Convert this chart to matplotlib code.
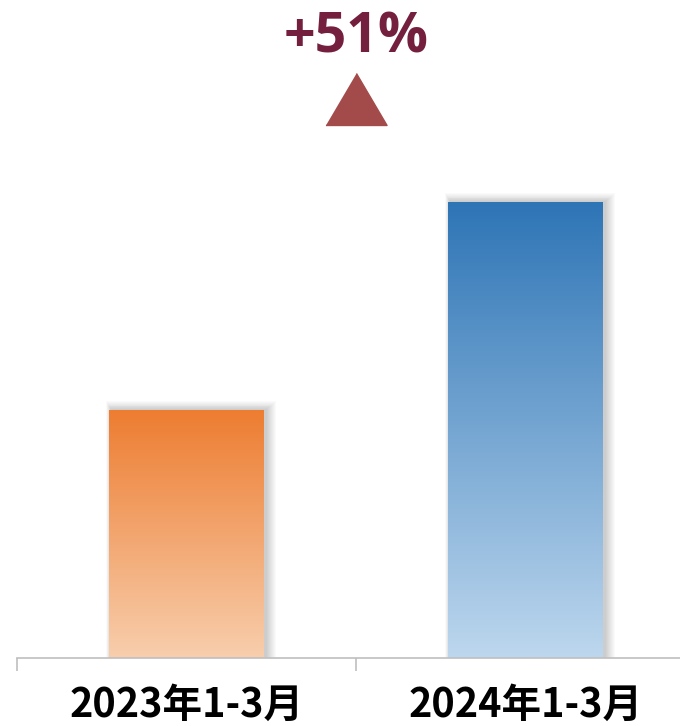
import numpy as np
import matplotlib
matplotlib.use("Agg")
from matplotlib import pyplot as plt
from matplotlib.colors import LinearSegmentedColormap
from matplotlib.patches import Rectangle

# data
categories = ['2023年1-3月', '2024年1-3月']
values = [248, 456]
growth_label = '+51%'
top_colors = ['#ED7D31', '#2E75B6']
bottom_colors = ['#F8CEAD', '#BDD7EE']

fig = plt.figure(figsize=[6.8, 7.26], dpi=100)
ax = fig.add_axes([17 / 680, 68 / 726, 678 / 680, 658 / 726])
ax.set_xlim(-0.5, 1.5)
ax.set_ylim(0, 658)

bar_w = 0.457
px_x = 2 / 678  # data units per pixel (x)
for i, v in enumerate(values):
    x0 = i - bar_w / 2
    # soft shadow, stronger on the right
    for k in range(1, 11):
        ax.add_patch(Rectangle((x0 - k * px_x * 0.5 + 2 * px_x, 0), bar_w + k * px_x * 1.5, v + k * 0.9,
                               color='black', alpha=0.018, lw=0, zorder=1))
    cmap = LinearSegmentedColormap.from_list(f'g{i}', [bottom_colors[i], top_colors[i]])
    grad = np.linspace(0, 1, 256).reshape(-1, 1)
    ax.imshow(grad, cmap=cmap, origin='lower', aspect='auto',
              extent=[x0, x0 + bar_w, 0, v], zorder=2)

ax.set_xlim(-0.5, 1.5)
ax.set_ylim(0, 658)

for s in ['top', 'right', 'left']:
    ax.spines[s].set_visible(False)
ax.spines['bottom'].set_color('#BFBFBF')
ax.spines['bottom'].set_linewidth(1.2)
ax.set_yticks([])
ax.set_xticks([0, 1])
ax.set_xticklabels(categories, fontsize=28.5, fontweight='heavy',
                   family=['Noto Sans CJK SC', 'DejaVu Sans'])
ax.tick_params(axis='x', which='major', length=0, pad=19)
ax.set_xticks([-0.5, 0.5, 1.5], minor=True)
ax.tick_params(axis='x', which='minor', length=9, color='#BFBFBF', width=1.2)

ax.text(0.5, 620, growth_label, ha='center', va='center', fontsize=40,
        fontweight='bold', family='Open Sans', color='#741F3E')
tri = [(-1, -0.85), (1, -0.85), (0, 0.85)]
ax.plot([0.5], [559], marker=tri, markersize=44, color='#A34B4B',
        linestyle='none', clip_on=False)

fig.savefig('out.png', dpi=100)
